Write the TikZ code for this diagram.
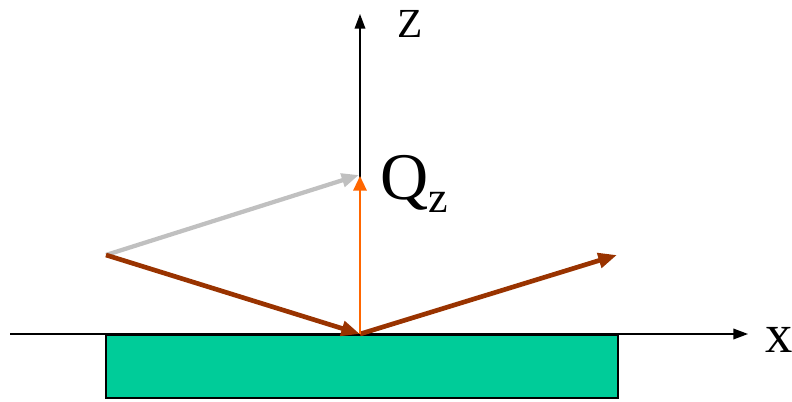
\documentclass[tikz,border=0pt]{standalone}
\usepackage{fontspec}
\setmainfont{Liberation Serif}
\usetikzlibrary{arrows.meta}
\definecolor{brownv}{HTML}{993300}
\definecolor{grayv}{HTML}{C0C0C0}
\definecolor{orangev}{HTML}{FF6600}
\definecolor{greenv}{HTML}{00CC99}
\tikzset{
  axis/.style={draw=black, line width=1.1pt, -{Triangle[length=11pt,width=8pt]}},
  beam/.style={draw=brownv, line width=3.5pt, -{Triangle[length=14pt,width=11pt]}},
  kin/.style={draw=grayv, line width=3.2pt, -{Triangle[length=13pt,width=10pt]}},
  qvec/.style={draw=orangev, line width=1.6pt, -{Triangle[length=11pt,width=10pt]}},
  lbl/.style={inner sep=0pt, font=\fontsize{31pt}{33pt}\selectfont}
}
\begin{document}
\begin{tikzpicture}[x=0.75pt,y=-0.75pt]
\useasboundingbox (0,0) rectangle (792,402);
\coordinate (xs) at (10,334);
\coordinate (xe) at (748,334);
\coordinate (o) at (360,334);
\coordinate (ze) at (360,14);
\coordinate (src) at (106,255);
\coordinate (out) at (617,255);
\coordinate (q) at (360,176);
\coordinate (g) at (359,175);
\fill[greenv, draw=black, line width=1pt] (106,335) rectangle (618,398);
\draw[axis] (xs) -- (xe);
\draw[axis] (o) -- (ze);
\node[lbl] (zl) at (410,24) {Z};
\node[lbl, font=\fontsize{41pt}{43pt}\selectfont] (xl) at (779,340) {x};
\node[inner sep=0pt, anchor=west, font=\fontsize{50pt}{52pt}\selectfont] (ql) at (380,184) {Q\raisebox{-0.2em}{\fontsize{33pt}{35pt}\selectfont z}};
\draw[kin] (src) -- (g);
\draw[beam] (src) -- (o);
\draw[beam] (o) -- (out);
\draw[qvec] (o) -- (q);
\end{tikzpicture}
\end{document}
